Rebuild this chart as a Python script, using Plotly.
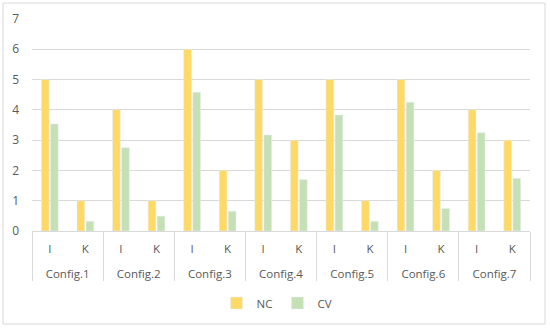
import plotly.graph_objects as go

configs = ["Config.1", "Config.2", "Config.3", "Config.4", "Config.5", "Config.6", "Config.7"]
subs = ["I", "K"]
nc_values = [5, 1, 4, 1, 6, 2, 5, 3, 5, 1, 5, 2, 4, 3]
cv_values = [3.53, 0.32, 2.75, 0.49, 4.58, 0.65, 3.17, 1.70, 3.83, 0.32, 4.25, 0.74, 3.24, 1.74]
y_ticks = [0, 1, 2, 3, 4, 5, 6, 7]

x_groups = [c for c in configs for _ in subs]
# an invisible second line gives the group labels the same spacing as the reference
x_subs = [s + "<br>\u00a0" for _ in configs for s in subs]

font_color = "#595959"
fig = go.Figure()
fig.add_trace(go.Bar(x=[x_groups, x_subs], y=nc_values, name="NC", marker_color="#FFD966"))
fig.add_trace(go.Bar(x=[x_groups, x_subs], y=cv_values, name="CV", marker_color="#C5E0B4"))

W, H = 550, 328
l, r, t, b = 32, 20, 19, 97
pw = W - l - r
ph = H - t - b

fig.update_layout(
    width=W, height=H,
    margin=dict(l=l, r=r, t=t, b=b, autoexpand=False),
    paper_bgcolor="white", plot_bgcolor="white",
    barmode="group", bargap=0.49, bargroupgap=0.15,
    font=dict(family="Open Sans, Liberation Sans, sans-serif", size=11.5, color=font_color),
    legend=dict(orientation="h", x=(277 - l) / pw, xanchor="center", y=(231 - 303) / ph,
                yanchor="middle", font=dict(size=11.5, color=font_color), itemwidth=30,
                traceorder="normal"),
    yaxis=dict(range=[0, 7], tickvals=y_ticks, showgrid=True, gridcolor="#D9D9D9", gridwidth=1,
               zeroline=False, showline=False, ticks="", ticklabelstandoff=12,
               tickfont=dict(size=12, color=font_color), automargin=False),
    xaxis=dict(type="multicategory", showline=True, linecolor="#D9D9D9", linewidth=1,
               showdividers=True, dividercolor="#D9D9D9", dividerwidth=1,
               ticks="", ticklabelstandoff=7,
               tickfont=dict(size=11.5, color=font_color), automargin=False),
    shapes=[dict(type="rect", xref="paper", yref="paper",
                 x0=(3 - l) / pw, x1=(545 - l) / pw,
                 y0=(H - b - 324) / ph, y1=(H - b - 3) / ph,
                 line=dict(color="#D9D9D9", width=1), fillcolor="rgba(0,0,0,0)", layer="below")],
)

fig.write_html("out.html", config={"displayModeBar": False},
               post_script="document.body.style.margin='0px';")
